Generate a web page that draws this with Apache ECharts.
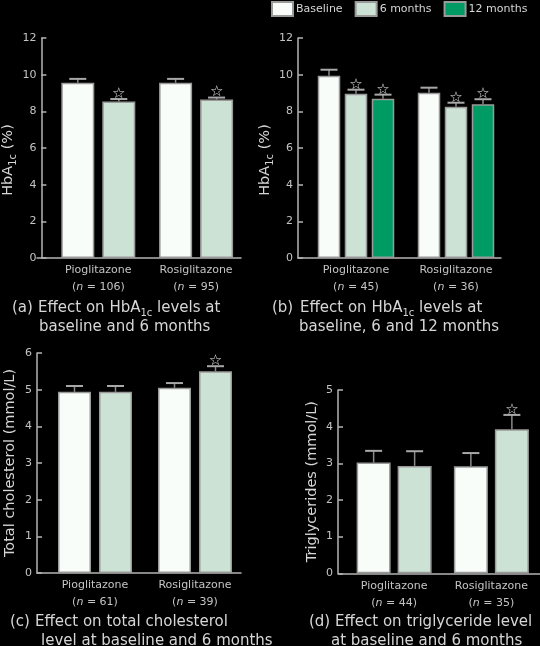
<!DOCTYPE html>
<html><head><meta charset="utf-8">
<script src="https://cdn.jsdelivr.net/npm/echarts@6/dist/echarts.min.js"></script>
<style>html,body{margin:0;padding:0;background:#000;}#c{width:540px;height:646px;}</style>
</head><body><div id="c"></div>
<script>
// ---------- data ----------
const categories = ['Pioglitazone', 'Rosiglitazone'];
const seriesNames = ['Baseline', '6 months', '12 months'];

// (a) HbA1c, baseline vs 6 months
const aN = ['106', '95'];
const aBaseline = [9.56, 9.56];
const aBaselineErr = [0.21, 0.21];
const aBaselineStar = [0, 0];
const a6Months = [8.53, 8.64];
const a6MonthsErr = [0.14, 0.11];
const a6MonthsStar = [1, 1];

// (b) HbA1c, baseline, 6 and 12 months
const bN = ['45', '36'];
const bBaseline = [9.94, 9.02];
const bBaselineErr = [0.33, 0.27];
const bBaselineStar = [0, 0];
const b6Months = [8.96, 8.25];
const b6MonthsErr = [0.22, 0.22];
const b6MonthsStar = [1, 1];
const b12Months = [8.69, 8.38];
const b12MonthsErr = [0.22, 0.28];
const b12MonthsStar = [1, 1];

// (c) total cholesterol
const cN = ['61', '39'];
const cBaseline = [4.94, 5.05];
const cBaselineErr = [0.16, 0.13];
const cBaselineStar = [0, 0];
const c6Months = [4.94, 5.50];
const c6MonthsErr = [0.16, 0.14];
const c6MonthsStar = [0, 1];

// (d) triglycerides
const dN = ['44', '35'];
const dBaseline = [3.02, 2.92];
const dBaselineErr = [0.32, 0.36];
const dBaselineStar = [0, 0];
const d6Months = [2.93, 3.93];
const d6MonthsErr = [0.40, 0.39];
const d6MonthsStar = [0, 1];

const yTicksA = [0, 12, 2];
const yTicksB = [0, 12, 2];
const yTicksC = [0, 6, 1];
const yTicksD = [0, 5, 1];

// ---------- style ----------
const FONT = '"DejaVu Sans"';
const TEXT = '#d6d6d6';
const LABEL = '#c4c4c4';
const AXIS = '#b4b4b4';
const colors = ['#f9fdf9', '#cce2d5', '#009b65'];
const BORDER = '#9a9a9a';

const panels = [
  { grid: {left: 45, top: 38, width: 200, height: 220}, line: {left: 37, width: 204},
    ticks: yTicksA, n: aN, barWidth: 33, gapPx: 8, nameGap: 20, namePad: [0, 24, 0, 0],
    yName: 'HbA{s|1c} (%)',
    series: [[aBaseline, aBaselineErr, aBaselineStar], [a6Months, a6MonthsErr, a6MonthsStar]] },
  { grid: {left: 306, top: 38, width: 200, height: 220}, line: {left: 298, width: 203},
    ticks: yTicksB, n: bN, barWidth: 22.5, gapPx: 4.5, nameGap: 20, namePad: [0, 24, 0, 0],
    yName: 'HbA{s|1c} (%)',
    series: [[bBaseline, bBaselineErr, bBaselineStar], [b6Months, b6MonthsErr, b6MonthsStar], [b12Months, b12MonthsErr, b12MonthsStar]] },
  { grid: {left: 45, top: 353, width: 200, height: 220}, line: {left: 37, width: 204},
    ticks: yTicksC, n: cN, barWidth: 33, gapPx: 8, nameGap: 19, namePad: [0, 0, 0, 0],
    yName: 'Total cholesterol (mmol/L)',
    series: [[cBaseline, cBaselineErr, cBaselineStar], [c6Months, c6MonthsErr, c6MonthsStar]] },
  { grid: {left: 345.5, top: 390, width: 201, height: 183.3}, line: {left: 338, width: 202},
    ticks: yTicksD, n: dN, barWidth: 34, gapPx: 7, nameGap: 18, namePad: [0, 0, 0, 0],
    yName: 'Triglycerides (mmol/L)',
    series: [[dBaseline, dBaselineErr, dBaselineStar], [d6Months, d6MonthsErr, d6MonthsStar]] }
];

const grid = [], xAxis = [], yAxis = [], series = [];
panels.forEach((p, i) => {
  const gi = grid.length;
  grid.push(Object.assign({containLabel: false}, p.grid));
  grid.push({left: p.line.left, width: p.line.width, top: p.grid.top, height: p.grid.height});
  xAxis.push({
    type: 'category', gridIndex: gi, data: categories,
    axisLine: {show: false}, axisTick: {show: false},
    axisLabel: {
      margin: 4, interval: 0,
      formatter: (v, idx) => `{c|${v}}\n{p|(}{i|n}{p| = ${p.n[idx]})}`,
      rich: {
        c: {fontFamily: FONT, fontSize: 11, color: LABEL, lineHeight: 17},
        p: {fontFamily: FONT, fontSize: 11, color: LABEL, lineHeight: 17},
        i: {fontFamily: FONT, fontSize: 11, color: LABEL, lineHeight: 17, fontStyle: 'italic'}
      }
    }
  });
  xAxis.push({
    type: 'value', gridIndex: gi + 1, min: 0, max: 1,
    axisLine: {show: true, lineStyle: {color: AXIS, width: 1.5}},
    axisTick: {show: false}, axisLabel: {show: false}, splitLine: {show: false}
  });
  yAxis.push({
    type: 'value', gridIndex: gi, min: p.ticks[0], max: p.ticks[1], interval: p.ticks[2],
    offset: p.grid.left - p.line.left,
    axisLine: {show: true, lineStyle: {color: AXIS, width: 1.5}},
    axisTick: {show: true, inside: true, length: 5, lineStyle: {color: AXIS, width: 1.5}},
    axisLabel: {color: LABEL, fontFamily: FONT, fontSize: 11, margin: 5},
    splitLine: {show: false},
    name: p.yName, nameLocation: 'middle', nameGap: p.nameGap,
    nameTextStyle: {
      color: TEXT, fontFamily: FONT, fontSize: 14.5, padding: p.namePad,
      rich: {s: {color: TEXT, fontFamily: FONT, fontSize: 10, padding: [10, 0, 0, 0]}}
    }
  });
  yAxis.push({type: 'value', gridIndex: gi + 1, min: 0, max: 1, show: false});

  const nb = p.series.length;
  const total = nb * p.barWidth + (nb - 1) * p.gapPx;
  p.series.forEach((s, j) => {
    const [vals, errs, stars] = s;
    series.push({
      type: 'bar', name: seriesNames[j], xAxisIndex: 2 * i, yAxisIndex: 2 * i,
      data: vals, barWidth: p.barWidth, barGap: (p.gapPx / p.barWidth * 100) + '%',
      itemStyle: {color: colors[j], borderColor: BORDER, borderWidth: 1.5},
      emphasis: {disabled: true}, z: 2
    });
    const xOff = -total / 2 + j * (p.barWidth + p.gapPx) + p.barWidth / 2;
    series.push({
      type: 'custom', xAxisIndex: 2 * i, yAxisIndex: 2 * i, z: 5, silent: true,
      data: vals.map((v, k) => [k, v, v + errs[k], stars[k]]),
      renderItem: (params, api) => {
        const p0 = api.coord([api.value(0), api.value(1)]);
        const p1 = api.coord([api.value(0), api.value(2)]);
        const x = p0[0] + xOff;
        const children = [
          {type: 'line', shape: {x1: x, y1: p0[1], x2: x, y2: p1[1]}, style: {stroke: '#8a8a8a', lineWidth: 1.5}},
          {type: 'line', shape: {x1: x - 8.5, y1: p1[1], x2: x + 8.5, y2: p1[1]}, style: {stroke: '#a8a8a8', lineWidth: 2}}
        ];
        if (api.value(3)) {
          children.push({type: 'text', x: x, y: p1[1] - 5,
            style: {text: '\u2606', fill: '#e0e0e0', font: '15px "DejaVu Sans"', align: 'center', verticalAlign: 'middle'}});
        }
        return {type: 'group', children};
      }
    });
  });
});

const capRich = {s: {fontFamily: 'DejaVu Sans', fontSize: 10, fill: TEXT, padding: [11, 0, 0, 0]}};
function cap(x, y, text) {
  return {type: 'text', x, y, silent: true,
    style: {text, fill: TEXT, font: '15px "DejaVu Sans"', verticalAlign: 'middle', rich: capRich}};
}

const option = {
  backgroundColor: '#000',
  animation: false,
  legend: {
    data: seriesNames, left: 271, top: 1, padding: 0, itemWidth: 21, itemHeight: 14, itemGap: 12,
    icon: 'rect', selectedMode: false,
    textStyle: {color: TEXT, fontFamily: FONT, fontSize: 11, padding: [0, 0, 0, -2]}
  },
  grid, xAxis, yAxis, series,
  graphic: [
    cap(12, 308, '(a)'), cap(38, 308, 'Effect on HbA{s|1c} levels at'), cap(39, 327, 'baseline and 6 months'),
    cap(272, 308, '(b)'), cap(300, 308, 'Effect on HbA{s|1c} levels at'), cap(299, 327, 'baseline, 6 and 12 months'),
    cap(10, 622, '(c)'), cap(35, 622, 'Effect on total cholesterol'), cap(41, 641, 'level at baseline and 6 months'),
    cap(309, 622, '(d)'), cap(335, 622, 'Effect on triglyceride level'), cap(331, 641, 'at baseline and 6 months')
  ]
};
echarts.init(document.getElementById('c')).setOption(option);
</script></body></html>
